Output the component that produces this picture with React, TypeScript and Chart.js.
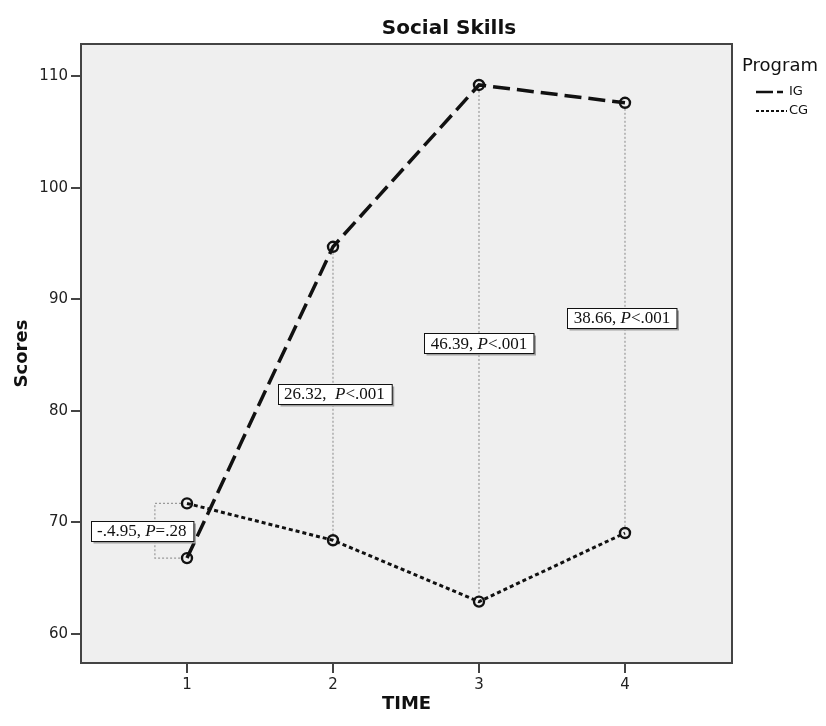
import React, { useEffect, useRef } from "react";
import { Chart, registerables } from "chart.js";

Chart.register(...registerables);

const times = [1, 2, 3, 4];
const igScores = [66.8, 94.7, 109.2, 107.6];
const cgScores = [71.7, 68.4, 62.9, 69.05];
const xTicks = [1, 2, 3, 4];
const yTicks = [60, 70, 80, 90, 100, 110];
const diffValues = ["-.4.95,", "26.32,  ", "46.39,", "38.66,"];
const pValues = ["=.28", "<.001", "<.001", "<.001"];
// x positions (TIME units) of the connector lines and label centers
const connectorX = [0.78, 2, 3, 4];
const labelX = [0.69, 2.01, 3.0, 3.98];

const LINE = "#111111";

const overlay = {
  id: "overlay",
  beforeDraw(chart: any) {
    const { ctx, chartArea: a } = chart;
    ctx.save();
    ctx.fillStyle = "#efefef";
    ctx.fillRect(a.left, a.top, a.right - a.left, a.bottom - a.top);
    ctx.restore();
  },
  beforeDatasetsDraw(chart: any) {
    const { ctx, scales } = chart;
    const xs = scales.x;
    const ys = scales.y;
    ctx.save();
    ctx.strokeStyle = "#9a9a9a";
    ctx.lineWidth = 1.2;
    ctx.setLineDash([2, 2]);
    times.forEach((t, i) => {
      const cx = xs.getPixelForValue(connectorX[i]);
      const y1 = ys.getPixelForValue(igScores[i]);
      const y2 = ys.getPixelForValue(cgScores[i]);
      ctx.beginPath();
      if (connectorX[i] !== t) {
        const px = xs.getPixelForValue(t) - 6;
        ctx.moveTo(px, y2);
        ctx.lineTo(cx, y2);
        ctx.lineTo(cx, y1);
        ctx.lineTo(px, y1);
      } else {
        ctx.moveTo(cx, y1 + 6);
        ctx.lineTo(cx, y2 - 6);
      }
      ctx.stroke();
    });
    ctx.restore();
  },
  afterDatasetsDraw(chart: any) {
    const { ctx, scales, chartArea: a } = chart;
    const xs = scales.x;
    const ys = scales.y;
    ctx.save();
    const regular = "17px 'Liberation Serif', 'Times New Roman', serif";
    const italic = "italic 17px 'Liberation Serif', 'Times New Roman', serif";
    times.forEach((t, i) => {
      const cx = xs.getPixelForValue(labelX[i]);
      const cy = ys.getPixelForValue((igScores[i] + cgScores[i]) / 2);
      const p1 = diffValues[i] + (diffValues[i].endsWith(" ") ? "" : " ");
      ctx.font = regular;
      const w1 = ctx.measureText(p1).width;
      const w3 = ctx.measureText(pValues[i]).width;
      ctx.font = italic;
      const w2 = ctx.measureText("P").width;
      const tw = w1 + w2 + w3;
      const bw = tw + 13;
      const bh = 20;
      const bx = Math.round(cx - bw / 2) + 0.5;
      const by = Math.round(cy - bh / 2) + 0.5;
      ctx.fillStyle = "#a0a0a0";
      ctx.fillRect(bx + 2, by + 2, bw, bh);
      ctx.fillStyle = "#ffffff";
      ctx.fillRect(bx, by, bw, bh);
      ctx.strokeStyle = "#111";
      ctx.lineWidth = 1;
      ctx.setLineDash([]);
      ctx.strokeRect(bx, by, bw, bh);
      ctx.fillStyle = "#111";
      ctx.textBaseline = "middle";
      ctx.textAlign = "left";
      let x = cx - tw / 2;
      ctx.font = regular;
      ctx.fillText(p1, x, cy + 1);
      x += w1;
      ctx.font = italic;
      ctx.fillText("P", x, cy + 1);
      x += w2;
      ctx.font = regular;
      ctx.fillText(pValues[i], x, cy + 1);
    });
    // frame
    ctx.strokeStyle = "#444";
    ctx.lineWidth = 2;
    ctx.strokeRect(a.left, a.top, a.right - a.left, a.bottom - a.top);
    ctx.restore();
  },
  afterDraw(chart: any) {
    const { ctx, chartArea: a } = chart;
    ctx.save();
    ctx.fillStyle = "#111";
    ctx.textAlign = "center";
    ctx.textBaseline = "middle";
    ctx.font = "bold 20px 'DejaVu Sans', sans-serif";
    ctx.fillText("Social Skills", 449, 29);
    ctx.font = "bold 18px 'DejaVu Sans', sans-serif";
    ctx.fillText("TIME", (a.left + a.right) / 2, 704);
    ctx.save();
    ctx.translate(22, (a.top + a.bottom) / 2);
    ctx.rotate(-Math.PI / 2);
    ctx.fillText("Scores", 0, 0);
    ctx.restore();
    // legend
    ctx.textAlign = "left";
    ctx.font = "18px 'DejaVu Sans', sans-serif";
    ctx.fillText("Program", 742, 66);
    ctx.strokeStyle = LINE;
    ctx.lineWidth = 2.5;
    ctx.setLineDash([17, 4, 6, 100]);
    ctx.beginPath();
    ctx.moveTo(756, 92);
    ctx.lineTo(787, 92);
    ctx.stroke();
    ctx.setLineDash([3, 2]);
    ctx.lineWidth = 2.2;
    ctx.beginPath();
    ctx.moveTo(756, 111);
    ctx.lineTo(787, 111);
    ctx.stroke();
    ctx.setLineDash([]);
    ctx.font = "13px 'DejaVu Sans', sans-serif";
    ctx.fillText("IG", 789, 92);
    ctx.fillText("CG", 789, 111);
    ctx.restore();
  },
};

export default function App() {
  const ref = useRef<HTMLCanvasElement | null>(null);
  useEffect(() => {
    if (!ref.current) return;
    const chart = new Chart(ref.current, {
      type: "line",
      data: {
        datasets: [
          {
            label: "IG",
            data: times.map((t, i) => ({ x: t, y: igScores[i] })),
            borderColor: LINE,
            borderWidth: 3.5,
            borderDash: [17, 7],
            pointRadius: 5,
            pointBorderWidth: 2.4,
            pointBackgroundColor: "rgba(0,0,0,0)",
            pointBorderColor: LINE,
            tension: 0,
            fill: false,
          },
          {
            label: "CG",
            data: times.map((t, i) => ({ x: t, y: cgScores[i] })),
            borderColor: LINE,
            borderWidth: 3,
            borderDash: [4, 3],
            pointRadius: 5,
            pointBorderWidth: 2.4,
            pointBackgroundColor: "rgba(0,0,0,0)",
            pointBorderColor: LINE,
            tension: 0,
            fill: false,
          },
        ],
      },
      options: {
        responsive: false,
        animation: false,
        layout: { padding: { top: 44, right: 94, left: 0, bottom: 0 } },
        plugins: {
          legend: { display: false },
          tooltip: { enabled: false },
          title: { display: false },
        },
        scales: {
          x: {
            type: "linear",
            min: 0.274,
            max: 4.733,
            afterBuildTicks: (s: any) => {
              s.ticks = xTicks.map((v) => ({ value: v }));
            },
            afterFit: (s: any) => {
              s.height = 63;
            },
            grid: {
              drawOnChartArea: false,
              drawTicks: true,
              tickLength: 10,
              color: "#444",
              lineWidth: 2,
            },
            border: { display: false },
            ticks: {
              font: { family: "'DejaVu Sans', sans-serif", size: 15 },
              color: "#222",
              padding: 3,
              autoSkip: false,
              maxRotation: 0,
            },
          },
          y: {
            type: "linear",
            min: 57.4,
            max: 112.87,
            afterBuildTicks: (s: any) => {
              s.ticks = yTicks.map((v) => ({ value: v }));
            },
            afterFit: (s: any) => {
              s.width = 81;
            },
            grid: {
              drawOnChartArea: false,
              drawTicks: true,
              tickLength: 10,
              color: "#444",
              lineWidth: 2,
            },
            border: { display: false },
            ticks: {
              font: { family: "'DejaVu Sans', sans-serif", size: 15 },
              color: "#222",
              padding: 3,
              autoSkip: false,
            },
          },
        },
      },
      plugins: [overlay],
    });
    return () => chart.destroy();
  }, []);
  return (
    <div style={{ position: "fixed", left: 0, top: 0, width: 826, height: 726 }}>
      <canvas ref={ref} width={826} height={726} style={{ display: "block", width: 826, height: 726 }} />
    </div>
  );
}
